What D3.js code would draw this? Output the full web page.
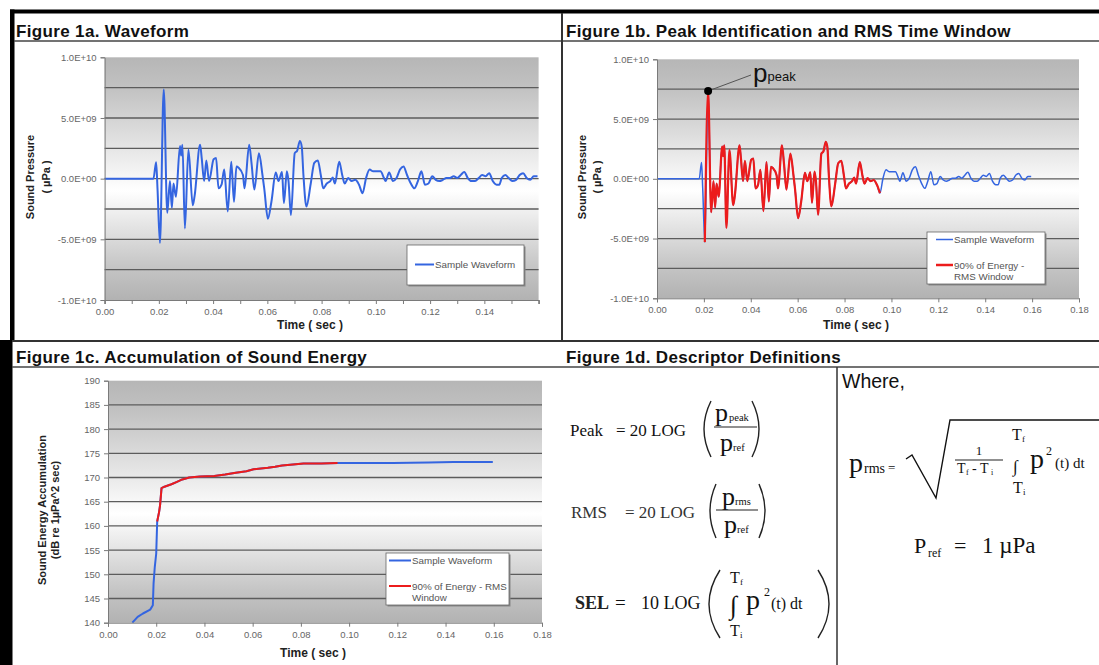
<!DOCTYPE html>
<html>
<head>
<meta charset="utf-8">
<script src="https://cdn.jsdelivr.net/npm/d3@7"></script>
<style>
body { margin: 0; background: #fff; }
</style>
</head>
<body>
<div id="chart"></div>
<script>
var width = 1099,
    height = 665;

var SANS = "'Liberation Sans', Arial, sans-serif",
    SERIF = "'Liberation Serif', 'Times New Roman', serif";

// sample waveform: time (sec) / sound pressure (x 1E+09 uPa)
var waveTime = [0, 0.0180, 0.0190, 0.0195, 0.0204, 0.0218, 0.0231, 0.0241, 0.0248, 0.0254, 0.0263, 0.0278, 0.0282, 0.0287, 0.0296,
    0.0309, 0.0325, 0.0332, 0.0352, 0.0358, 0.0367, 0.0375, 0.0385, 0.0402, 0.0411, 0.0420, 0.0431, 0.0441, 0.0454, 0.0467, 0.0477,
    0.0486, 0.0494, 0.0510, 0.0516, 0.0533, 0.0542, 0.0552, 0.0569, 0.0582, 0.0589, 0.0602, 0.0615, 0.0631, 0.0641, 0.0654, 0.0661,
    0.0672, 0.0678, 0.0687, 0.0701, 0.0710, 0.0720, 0.0727, 0.0733, 0.0744, 0.0760, 0.0773, 0.0786, 0.0797, 0.0806, 0.0819, 0.0832,
    0.0841, 0.0849, 0.0865, 0.0876, 0.0885, 0.0898, 0.0911, 0.0924, 0.0938, 0.0951, 0.0964, 0.0977, 0.0990, 0.1003, 0.1017, 0.1030,
    0.1036, 0.1049, 0.1063, 0.1076, 0.1089, 0.1102, 0.1115, 0.1129, 0.1142, 0.1155, 0.1168, 0.1181, 0.1194, 0.1208, 0.1221, 0.1234,
    0.1247, 0.1260, 0.1273, 0.1287, 0.1300, 0.1313, 0.1326, 0.1339, 0.1352, 0.1366, 0.1379, 0.1392, 0.1405, 0.1418, 0.1431, 0.1445,
    0.1455, 0.1464, 0.1477, 0.1490, 0.1503, 0.1517, 0.1530, 0.1543, 0.1556, 0.1569, 0.1582, 0.1596];
var wavePressure = [0, 0, 1.36, -0.8, -5.3, 7.35, -2.8, -0.2, -2.4, -0.4, -1.5, 2.7, 1.9, 2.8, -4.1,
    2.4, -2.2, -1.4, 2.8, 1.7, -0.2, 1.5, -0.2, 1.6, 1.7, -0.8, -0.5, 0.75, -2.7, 1.4, -1.9,
    1.0, 0.9, 0.3, -0.8, 2.8, 1.2, -0.9, 2.1, 0.3, -0.9, -3.3, -1.9, 0.5, -0.2, 0.55, -2.0,
    0.6, -0.2, -3.0, 2.1, 2.3, 3.1, 2.6, 0.3, -2.3, -0.4, 1.3, 1.5, 0.3, -0.8, -0.4, -0.2,
    0.1, -0.4, 1.4, 0.3, -0.4, 0.05, -0.2, -0.1, -0.5, -1.2, 0.05, 0.75, 0.6, 0.6, 0.6, 0.05,
    -0.2, 0.5, -0.2, 0.05, 0.75, 1.0, 0.3, -0.4, -0.8, -0.2, 0.6, -0.5, -0.4, 0.2, -0.1, -0.2,
    -0.1, 0.05, 0.05, 0.2, 0.05, 0.3, 0.55, 0.05, -0.2, -0.2, 0.05, 0.3, 0.2, 0.45, -0.2, -0.5,
    -0.5, 0.05, 0.3, 0.05, -0.2, -0.1, 0.3, 0.45, 0.05, -0.1, 0.2, 0.2];

// 90% of energy - RMS window (sec)
var rmsWindow = [0.0204, 0.0952];

// accumulation of sound energy (dB re 1uPa^2 sec)
var energyTime = [0.0101, 0.0123, 0.0145, 0.0175, 0.0186, 0.0189, 0.0194, 0.0200, 0.0204, 0.0212, 0.0216, 0.0222, 0.0234, 0.0263,
    0.0286, 0.0308, 0.0337, 0.0382, 0.0441, 0.0486, 0.0530, 0.0574, 0.0604, 0.0663, 0.0693, 0.0722, 0.0767, 0.0811, 0.0885,
    0.0952, 0.1033, 0.1181, 0.1329, 0.1433, 0.1596];
var energyDb = [140, 141.2, 141.9, 142.7, 143.6, 148.1, 151.5, 154.3, 160.9, 162.9, 164.3, 167.8, 168.1, 168.6,
    169.1, 169.6, 170.0, 170.2, 170.3, 170.6, 171.0, 171.3, 171.7, 172.0, 172.2, 172.5, 172.7, 172.9, 172.9,
    173.0, 173.0, 173.0, 173.1, 173.2, 173.2];

var pressureTicks = [-10, -5, 0, 5, 10];
var pressureGrid = [-7.5, -5, -2.5, 0, 2.5, 5, 7.5];
var timeTicksA = [0, 0.02, 0.04, 0.06, 0.08, 0.10, 0.12, 0.14];
var timeMinorA = [0.01, 0.03, 0.05, 0.07, 0.09, 0.11, 0.13, 0.15, 0.16];
var timeTicksB = [0, 0.02, 0.04, 0.06, 0.08, 0.10, 0.12, 0.14, 0.16, 0.18];
var energyTicks = [140, 145, 150, 155, 160, 165, 170, 175, 180, 185, 190];

var wave = waveTime.map(function(t, i) { return {t: t, v: wavePressure[i]}; });
var energy = energyTime.map(function(t, i) { return {t: t, v: energyDb[i]}; });
function inRms(d) { return d.t >= rmsWindow[0] && d.t <= rmsWindow[1]; }

var BLUE = "#3465e0", RED = "#ec1c1c";

var svg = d3.select("#chart").append("svg")
    .attr("width", width)
    .attr("height", height)
    .style("display", "block");

var grad = svg.append("defs").append("linearGradient")
    .attr("id", "plotBg").attr("x1", 0).attr("y1", 0).attr("x2", 0).attr("y2", 1);
[[0, "#b6b6b6"], [0.13, "#c2c2c2"], [0.55, "#ffffff"], [0.87, "#c4c4c4"], [1, "#b2b2b2"]].forEach(function(s) {
    grad.append("stop").attr("offset", s[0]).attr("stop-color", s[1]);
});

// ---- frame ----
svg.append("rect").attr("x", 10).attr("y", 9.5).attr("width", width - 10).attr("height", 4).attr("fill", "#000");
svg.append("rect").attr("x", 10).attr("y", 9.5).attr("width", 4.5).attr("height", 332).attr("fill", "#000");
svg.append("rect").attr("x", 0).attr("y", 340).attr("width", 12.5).attr("height", 325).attr("fill", "#000");
function rule(x1, y1, x2, y2, w, c) {
    svg.append("line").attr("x1", x1).attr("y1", y1).attr("x2", x2).attr("y2", y2)
        .attr("stroke", c || "#333").attr("stroke-width", w);
}
rule(14, 41, width, 41, 1.5, "#444");
rule(562, 13, 562, 341, 2);
rule(12, 341, width, 341, 2);
rule(12, 367, width, 367, 1.5, "#444");
rule(837, 367, 837, height, 1.5);

function title(x, y, s) {
    svg.append("text").attr("x", x).attr("y", y).text(s)
        .attr("font-family", SANS).attr("font-weight", "bold").attr("font-size", 17)
        .attr("letter-spacing", 0.35).attr("fill", "#111");
}
title(16, 37, "Figure 1a. Waveform");
title(566, 37, "Figure 1b. Peak Identification and RMS Time Window");
title(16, 363, "Figure 1c. Accumulation of Sound Energy");
title(566, 363, "Figure 1d. Descriptor Definitions");

function fmtE(d) {
    var s = (d * 1e9).toExponential(1).toUpperCase();
    return s.replace(/E([+-])(\d+)$/, function(m, sign, e) { return "E" + sign + (e.length < 2 ? "0" + e : e); });
}

function styleAxis(g) {
    g.attr("font-family", SANS);
    g.select(".domain").attr("stroke", "#7a7a7a");
    g.selectAll(".tick line").attr("stroke", "#7a7a7a");
    g.selectAll(".tick text").attr("fill", "#666").attr("font-size", 9.5);
}

function plotArea(box, x, y, grid) {
    var g = svg.append("g");
    g.append("rect").attr("x", box.l).attr("y", box.t).attr("width", box.r - box.l).attr("height", box.b - box.t)
        .attr("fill", "url(#plotBg)");
    g.selectAll(".grid").data(grid).enter().append("line")
        .attr("x1", box.l).attr("x2", box.r)
        .attr("y1", function(d) { return y(d); }).attr("y2", function(d) { return y(d); })
        .attr("stroke", "#5c5c5c").attr("stroke-width", 1.3);
    return g;
}

function axisTitles(xCenter, xTitleY, yLines, yX, yCenter) {
    svg.append("text").attr("x", xCenter).attr("y", xTitleY).attr("text-anchor", "middle")
        .attr("font-family", SANS).attr("font-weight", "bold").attr("font-size", 12).attr("fill", "#222")
        .text("Time ( sec )");
    yLines.forEach(function(s, i) {
        svg.append("text").attr("transform", "translate(" + yX[i] + "," + yCenter + ") rotate(-90)")
            .attr("text-anchor", "middle").attr("dy", "0.35em")
            .attr("font-family", SANS).attr("font-weight", "bold").attr("font-size", 11).attr("fill", "#222")
            .text(s);
    });
}

function legend(x0, y0, w, h, lx1, lx2, items) {
    var g = svg.append("g");
    g.append("rect").attr("x", x0 + 1.5).attr("y", y0 + 1.5).attr("width", w).attr("height", h).attr("fill", "#888");
    g.append("rect").attr("x", x0).attr("y", y0).attr("width", w).attr("height", h)
        .attr("fill", "#fff").attr("stroke", "#666").attr("stroke-width", 0.8);
    items.forEach(function(it) {
        g.append("line").attr("x1", lx1).attr("x2", lx2).attr("y1", y0 + it.dy).attr("y2", y0 + it.dy)
            .attr("stroke", it.color).attr("stroke-width", it.w);
        it.text.forEach(function(s, i) {
            g.append("text").attr("x", lx2 + 1).attr("y", y0 + it.dy + 3.5 + i * 11).text(s)
                .attr("font-family", SANS).attr("font-size", 9.8).attr("fill", "#555");
        });
    });
}

var curve = d3.curveMonotoneX;

// ---- Figure 1a ----
var boxA = {l: 104.6, r: 538.6, t: 57.3, b: 300};
var xA = d3.scaleLinear().domain([0, 0.16]).range([boxA.l, boxA.r]);
var yA = d3.scaleLinear().domain([-10, 10]).range([boxA.b, boxA.t]);
var gA = plotArea(boxA, xA, yA, pressureGrid);
svg.append("g").attr("transform", "translate(0," + boxA.b + ")")
    .call(d3.axisBottom(xA).tickValues(timeMinorA).tickSize(4).tickFormat(""))
    .call(styleAxis);
svg.append("g").attr("transform", "translate(0," + boxA.b + ")")
    .call(d3.axisBottom(xA).tickValues(timeTicksA).tickSize(4).tickPadding(4).tickFormat(d3.format(".2f")))
    .call(styleAxis);
svg.append("g").attr("transform", "translate(" + boxA.l + ",0)")
    .call(d3.axisLeft(yA).tickValues(pressureTicks).tickSize(4).tickPadding(4).tickFormat(fmtE))
    .call(styleAxis);
var lineA = d3.line().curve(curve).x(function(d) { return xA(d.t); }).y(function(d) { return yA(d.v); });
gA.append("path").datum(wave).attr("d", lineA)
    .attr("fill", "none").attr("stroke", BLUE).attr("stroke-width", 2).attr("stroke-linejoin", "round");
axisTitles(310, 329, ["Sound Pressure", "( \u00b5Pa )"], [30.5, 46], 177);
legend(407, 245, 117, 40, 415, 434, [{color: BLUE, w: 2, dy: 19.5, text: ["Sample Waveform"]}]);

// ---- Figure 1b ----
var boxB = {l: 657, r: 1079, t: 59.3, b: 298.3};
var xB = d3.scaleLinear().domain([0, 0.18]).range([boxB.l, boxB.r]);
var yB = d3.scaleLinear().domain([-10, 10]).range([boxB.b, boxB.t]);
var gB = plotArea(boxB, xB, yB, pressureGrid);
svg.append("g").attr("transform", "translate(0," + boxB.b + ")")
    .call(d3.axisBottom(xB).tickValues(timeTicksB).tickSize(4).tickPadding(4).tickFormat(d3.format(".2f")))
    .call(styleAxis);
svg.append("g").attr("transform", "translate(" + boxB.l + ",0)")
    .call(d3.axisLeft(yB).tickValues(pressureTicks).tickSize(4).tickPadding(4).tickFormat(fmtE))
    .call(styleAxis);
var lineB = d3.line().curve(curve).x(function(d) { return xB(d.t); }).y(function(d) { return yB(d.v); });
gB.append("path").datum(wave).attr("d", lineB)
    .attr("fill", "none").attr("stroke", BLUE).attr("stroke-width", 1.5).attr("stroke-linejoin", "round");
gB.append("path").datum(wave.filter(inRms)).attr("d", lineB)
    .attr("fill", "none").attr("stroke", RED).attr("stroke-width", 2.2).attr("stroke-linejoin", "round");
axisTitles(856, 329, ["Sound Pressure", "( \u00b5Pa )"], [582, 597], 177);
legend(927, 232, 118, 52, 936, 953, [
    {color: BLUE, w: 1.5, dy: 7.5, text: ["Sample Waveform"]},
    {color: RED, w: 2.5, dy: 33, text: ["90% of Energy -", "RMS Window"]}
]);
// peak marker
var peak = wave.reduce(function(a, b) { return b.v > a.v ? b : a; });
var px = xB(peak.t), py = yB(peak.v);
gB.append("line").attr("x1", px).attr("y1", py).attr("x2", 751).attr("y2", 75)
    .attr("stroke", "#555").attr("stroke-width", 1);
gB.append("circle").attr("cx", px).attr("cy", py).attr("r", 4).attr("fill", "#000");
var pk = svg.append("text").attr("x", 753).attr("y", 82).attr("font-family", SANS).attr("fill", "#111");
pk.append("tspan").attr("font-size", 26).text("p");
pk.append("tspan").attr("font-size", 13).attr("dy", -1).text("peak");

// ---- Figure 1c ----
var boxC = {l: 108, r: 542, t: 380.7, b: 622.7};
var xC = d3.scaleLinear().domain([0, 0.18]).range([boxC.l, boxC.r]);
var yC = d3.scaleLinear().domain([140, 190]).range([boxC.b, boxC.t]);
var gC = plotArea(boxC, xC, yC, energyTicks.slice(1, -1));
svg.append("g").attr("transform", "translate(0," + boxC.b + ")")
    .call(d3.axisBottom(xC).tickValues(timeTicksB).tickSize(4).tickPadding(5).tickFormat(d3.format(".2f")))
    .call(styleAxis);
svg.append("g").attr("transform", "translate(" + boxC.l + ",0)")
    .call(d3.axisLeft(yC).tickValues(energyTicks).tickSize(4).tickPadding(4))
    .call(styleAxis);
var lineC = d3.line().x(function(d) { return xC(d.t); }).y(function(d) { return yC(d.v); });
gC.append("path").datum(energy).attr("d", lineC)
    .attr("fill", "none").attr("stroke", BLUE).attr("stroke-width", 2).attr("stroke-linejoin", "round");
gC.append("path").datum(energy.filter(inRms)).attr("d", lineC)
    .attr("fill", "none").attr("stroke", RED).attr("stroke-width", 2).attr("stroke-linejoin", "round");
axisTitles(313, 657, ["Sound Energy Accumulation", "(dB re 1\u00b5Pa^2 sec)"], [42, 55], 510);
legend(386, 553, 123, 52, 389, 411, [
    {color: BLUE, w: 2, dy: 7.5, text: ["Sample Waveform"]},
    {color: RED, w: 2, dy: 33, text: ["90% of Energy - RMS", "Window"]}
]);

// ---- Figure 1d ----
var gD = svg.append("g").attr("fill", "#111");
function t(x, y, s, size, fam, anchor) {
    return gD.append("text").attr("x", x).attr("y", y).text(s)
        .attr("font-size", size).attr("font-family", fam || SERIF).attr("text-anchor", anchor || "start");
}
function paren(x, y1, y2, dir, w) {
    var m = (y1 + y2) / 2, bulge = dir * w;
    gD.append("path").attr("d", "M" + x + "," + y1 + " Q" + (x - bulge) + "," + m + " " + x + "," + y2)
        .attr("fill", "none").attr("stroke", "#222").attr("stroke-width", 1.4);
}
function hline(x1, x2, y) {
    gD.append("line").attr("x1", x1).attr("x2", x2).attr("y1", y).attr("y2", y).attr("stroke", "#222").attr("stroke-width", 1.2);
}

// Peak
t(570, 436, "Peak", 17);
t(616, 436, "= 20 LOG", 17);
paren(711, 401, 457, 1, 14);
paren(752, 401, 457, -1, 14);
t(715, 421, "p", 26); t(729, 421, "peak", 10.5);
hline(714, 757, 427);
t(720, 451, "p", 26); t(733, 451, "ref", 10.5);

// RMS
t(571, 518, "RMS", 17).attr("fill", "#333");
t(625, 518, "= 20 LOG", 17).attr("fill", "#333");
paren(716, 484, 538, 1, 12);
paren(759, 484, 538, -1, 12);
t(722, 505, "p", 26); t(735, 505, "rms", 10.5);
hline(716, 758, 510);
t(724, 533, "p", 26); t(737, 533, "ref", 10.5);

// SEL
t(575, 609, "SEL", 18).attr("font-weight", "bold").attr("fill", "#222");
t(615, 609, "=", 19);
t(641, 609, "10 LOG", 18);
paren(720, 570, 638, 1, 22);
paren(818, 570, 638, -1, 22);
t(730, 583, "T", 16); t(740, 585, "f", 9);
t(730, 614, "\u222b", 26);
t(746, 609, "p", 28); t(764, 596, "2", 12); t(771, 609, "(t) dt", 16);
t(730, 636, "T", 16); t(740, 638, "i", 9);

// right side
t(842, 388, "Where,", 19.5, SANS);
t(849, 472, "p", 28); t(864, 473, "rms", 14); t(888, 472, "=", 13);
gD.append("path").attr("d", "M906,459 L912,455 L936,498 L950,420 L1099,420")
    .attr("fill", "none").attr("stroke", "#111").attr("stroke-width", 1.4);
t(979, 455, "1", 13, SERIF, "middle");
hline(955, 1003, 460);
t(957, 473, "T", 14); t(966, 475, "f", 8); t(972, 473, "- T", 14); t(991, 475, "i", 8);
t(1012, 440, "T", 16); t(1022, 442, "f", 9);
t(1013, 472, "\u222b", 17);
t(1013, 493, "T", 16); t(1023, 495, "i", 9);
t(1030, 468, "p", 28); t(1046, 455, "2", 12); t(1055, 468, "(t) dt", 15);

t(914, 553, "P", 22); t(928, 557, "ref", 12);
t(954, 553, "=", 22);
t(982, 553, "1 \u00b5Pa", 23);
</script>
</body>
</html>
